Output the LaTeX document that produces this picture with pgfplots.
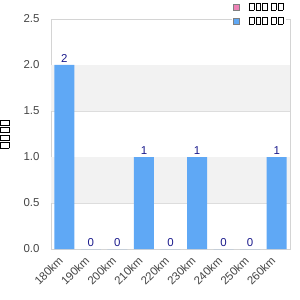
\documentclass[border=0pt]{standalone}
\usepackage{pgfplots}
\pgfplotsset{compat=1.18}
\usepackage{fontspec}
\setmainfont{Liberation Sans}
\definecolor{barblue}{HTML}{5FA8F5}
\definecolor{barpink}{HTML}{EE82B6}
\definecolor{band}{HTML}{F2F2F2}
\definecolor{gridc}{HTML}{DDDDDD}
\definecolor{framec}{HTML}{D4D4D4}
\definecolor{ticktext}{HTML}{444444}
\definecolor{valtext}{HTML}{1A1A8C}
\newcommand\tofu{{\fboxsep=0pt\fboxrule=0.6pt\fbox{\rule{0pt}{6.5bp}\hspace{4.2bp}}}\hspace{1.4bp}}
\newcommand\tofuy{{\fboxsep=0pt\fboxrule=0.7pt\fbox{\rule{0pt}{8.5bp}\hspace{4.4bp}}}\hspace{1.8bp}}
\begin{document}
\begin{tikzpicture}
\path[use as bounding box] (-51bp,-51bp) rectangle (249bp,249bp);
\begin{axis}[
  at={(0,0)}, anchor=south west,
  scale only axis,
  width=239bp, height=230bp,
  xmin=-0.5, xmax=8.5,
  ymin=0, ymax=2.5,
  ytick={0,0.5,1,1.5,2,2.5},
  tick label style={font=\fontsize{11.5}{13}\selectfont, text=ticktext},
  yticklabel style={/pgf/number format/fixed,/pgf/number format/fixed zerofill,/pgf/number format/precision=1, xshift=-8bp},
  /pgf/number format/assume math mode=true,
  xtick={0,...,8},
  xticklabels={180km,190km,200km,210km,220km,230km,240km,250km,260km},
  xticklabel style={yshift=-7bp, xshift=-1bp, rotate=45, anchor=east},
  major tick length=0pt,
  axis line style={framec},
  ymajorgrids, grid style={gridc, line width=0.8pt},
  ylabel={\tofuy\tofuy\tofuy\tofuy},
  ylabel style={at={(axis description cs:-0.193,0.5)}, anchor=center},
  legend style={at={(1,1)}, anchor=north east, yshift=19bp, xshift=-4bp, fill=white, draw=none, font=\fontsize{8}{9}\selectfont, row sep=2.5bp, inner sep=1bp, nodes={inner sep=1.5bp}},
  legend cell align=left,
  legend image code/.code={\draw[#1, draw=gray, line width=0.7pt] (0bp,-3bp) rectangle (6bp,3bp);},
]
\addplot[draw=none, fill=band, forget plot] coordinates {(-0.5,0.5) (8.5,0.5) (8.5,1.0) (-0.5,1.0)} -- cycle;
\addplot[draw=none, fill=band, forget plot] coordinates {(-0.5,1.5) (8.5,1.5) (8.5,2.0) (-0.5,2.0)} -- cycle;
\addlegendimage{fill=barpink}
\addlegendentry{\hspace{8bp}\tofu\tofu\tofu\hspace{2bp}\tofu\tofu}
\addplot[ybar, bar width=20bp, fill=barblue, draw=none,
  nodes near coords, nodes near coords style={text=valtext, font=\fontsize{11.5}{13}\selectfont, inner sep=2bp}]
  coordinates {(0,2) (1,0) (2,0) (3,1) (4,0) (5,1) (6,0) (7,0) (8,1)};
\addlegendentry{\hspace{8bp}\tofu\tofu\tofu\hspace{2bp}\tofu\tofu}
\end{axis}
\end{tikzpicture}
\end{document}
